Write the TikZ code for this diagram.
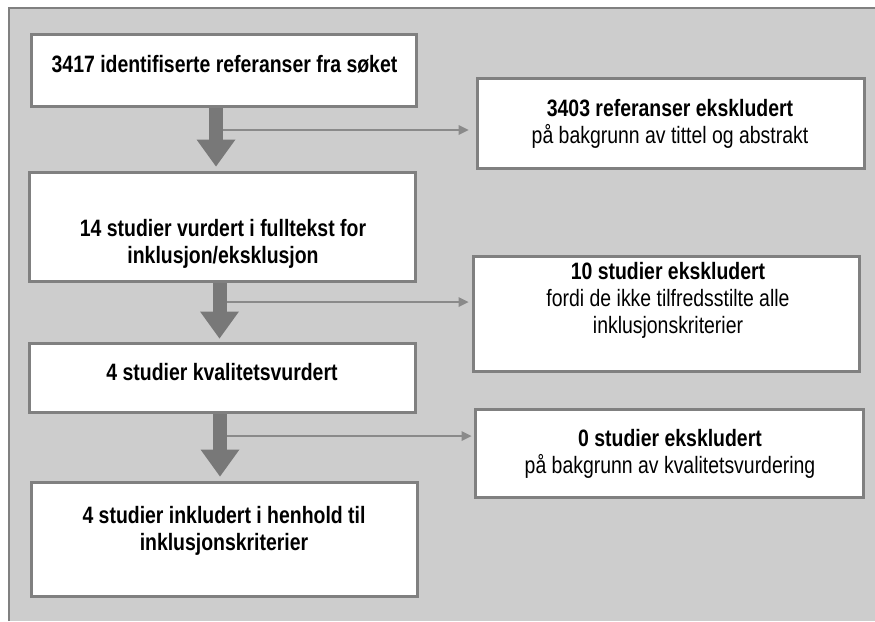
\documentclass[tikz,border=0pt]{standalone}
\usepackage{fontspec}
\setmainfont[FakeStretch=0.82]{Liberation Sans}
\usetikzlibrary{arrows.meta,calc}
\definecolor{bg}{RGB}{205,205,205}
\definecolor{framec}{RGB}{128,128,128}
\definecolor{bigarr}{RGB}{120,120,120}
\definecolor{thinarr}{RGB}{138,138,138}
\begin{document}
\begin{tikzpicture}[x=1pt,y=-1pt,
  box/.style={draw=framec,line width=3pt,fill=white,inner sep=0pt},
  lbl/.style={align=center,inner sep=0pt,font=\fontsize{23.7}{27}\selectfont},
  bigarrow/.style={draw=bigarr,line width=14pt,-{Triangle[width=39pt,length=27pt,line width=0pt]}},
  thinarrow/.style={draw=thinarr,line width=2pt,-{Triangle[width=10pt,length=10pt,line width=0pt]}}
]
\path[use as bounding box] (0,0) rectangle (875,621);
\fill[bg] (9,8) rectangle (875,621);
\draw[framec,line width=2pt] (9,621) -- (9,8) -- (875,8);

% boxes
\node[box,minimum width=385pt,minimum height=72pt] (b1) at (224,70.5) {};
\node[box,minimum width=386pt,minimum height=109pt] (b2) at (222.5,227) {};
\node[box,minimum width=386pt,minimum height=69pt] (b3) at (222.5,378) {};
\node[box,minimum width=386pt,minimum height=114pt] (b4) at (224.5,539.5) {};
\node[box,minimum width=387pt,minimum height=90pt] (r1) at (671,123.5) {};
\node[box,minimum width=386pt,minimum height=115pt] (r2) at (666.5,314) {};
\node[box,minimum width=388pt,minimum height=88pt] (r3) at (669.5,453.5) {};

% texts
\node[lbl] (t1) at (224.5,64.5) {\bfseries 3417 identifiserte referanser fra søket};
\node[lbl] (t2) at (223,244) {\bfseries 14 studier vurdert i fulltekst for\\\bfseries inklusjon/eksklusjon};
\node[lbl] (t3) at (222,372.5) {\bfseries 4 studier kvalitetsvurdert};
\node[lbl] (t4) at (224,531) {\bfseries 4 studier inkludert i henhold til\\\bfseries inklusjonskriterier};
\node[lbl] (u1) at (670,124) {\textbf{3403 referanser ekskludert}\\på bakgrunn av tittel og abstrakt};
\node[lbl] (u2) at (668,300) {\textbf{10 studier ekskludert}\\fordi de ikke tilfredsstilte alle\\inklusjonskriterier};
\node[lbl] (u3) at (670,454) {\textbf{0 studier ekskludert}\\på bakgrunn av kvalitetsvurdering};

% big arrows
\coordinate (x1) at (216,0);
\coordinate (x2) at (219.5,0);
\coordinate (x3) at (220,0);
\begin{scope}[on background layer/.style={}]
\end{scope}
\draw[bigarrow,shorten >=4.5pt] (x1 |- b1.south) -- (x1 |- b2.north);
\draw[bigarrow,shorten >=3.5pt] (x2 |- b2.south) -- (x2 |- b3.north);
\draw[bigarrow,shorten >=4.5pt] (x3 |- b3.south) -- (x3 |- b4.north);

% thin arrows
\coordinate (j1) at (223,130);
\coordinate (j2) at (226.5,302);
\coordinate (j3) at (227,436);
\draw[thinarrow,shorten >=7.5pt] (j1) -- (r1.west |- j1);
\draw[thinarrow,shorten >=3.5pt] (j2) -- (r2.west |- j2);
\draw[thinarrow,shorten >=2.5pt] (j3) -- (r3.west |- j3);
\end{tikzpicture}
\end{document}
